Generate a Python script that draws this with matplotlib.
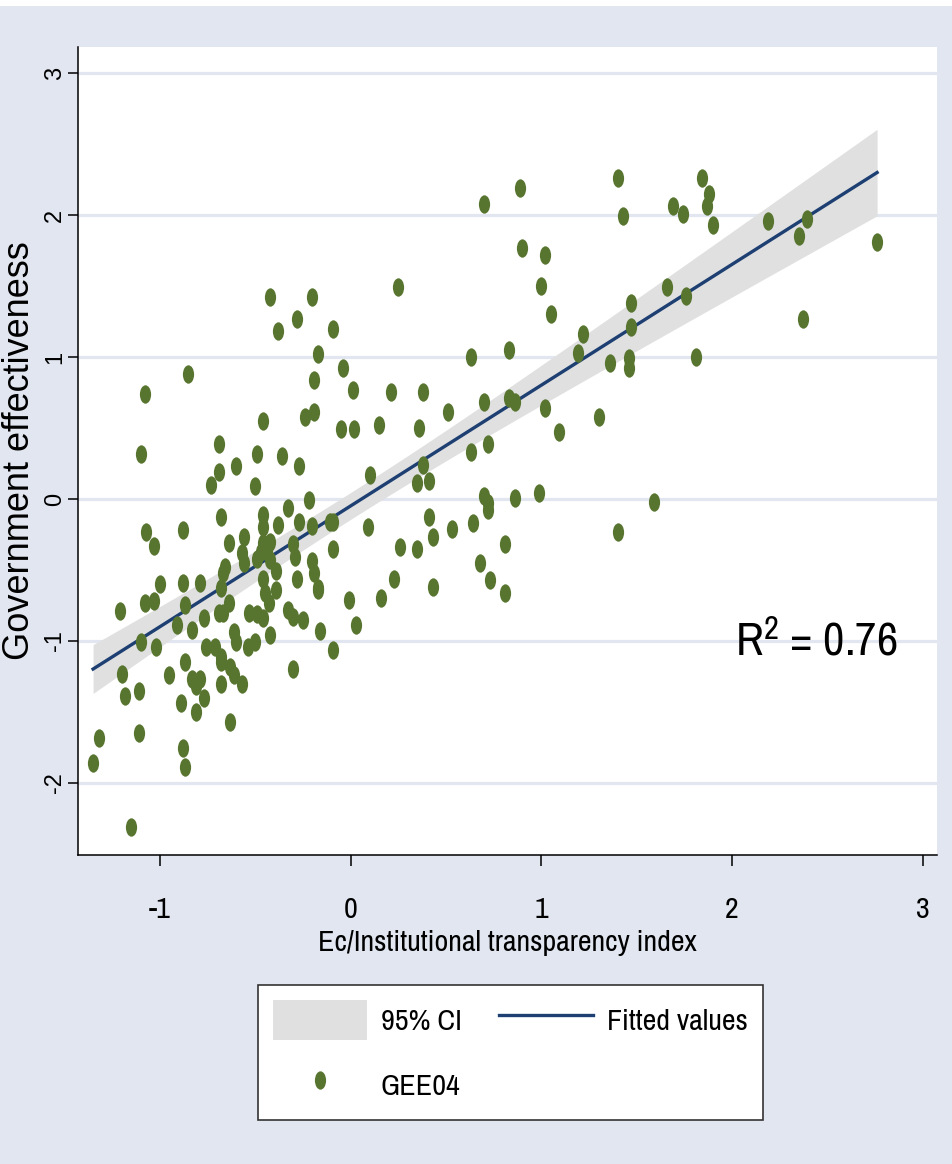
import numpy as np
import matplotlib
matplotlib.use('Agg')
import matplotlib.pyplot as plt
from matplotlib.path import Path
from matplotlib.transforms import Affine2D
from matplotlib.patches import Patch, Rectangle
from matplotlib.lines import Line2D
from matplotlib import font_manager

# Ec/Institutional transparency index (x) and GEE04 (y)
x_transp = [0.70, 0.89, 1.40, 1.43, 1.84, 1.88, 1.87, 1.90, 1.69, 1.74,
            2.19, 2.39, 2.35, 2.76, 2.37, 0.90, 1.02, 1.00, 1.05, 0.25,
            1.47, 1.47, 1.66, 1.76, 1.22, 1.19, 1.36, 1.46, 1.46, 1.81,
            0.83, 0.63, 1.30, 1.09, 1.02, 1.59, 1.40, -0.42, -0.20, -0.28,
            -0.38, -0.09, -0.17, -0.04, -0.85, -0.19, 0.01, -1.08, 0.21, 0.38,
            0.70, 0.83, 0.86, 0.51, -0.46, -0.24, -0.19, -0.05, 0.02, 0.15,
            0.36, 0.72, 0.63, -0.69, -1.10, -0.49, -0.36, -0.27, -0.60, -0.69,
            -0.73, -0.50, 0.10, 0.38, 0.35, 0.41, 0.70, 0.72, 0.72, 0.86,
            0.99, -0.33, -0.22, -0.68, -0.46, -0.46, -0.38, -0.27, -0.20, -0.11,
            -0.09, -0.88, -1.07, -1.03, -0.64, -0.56, -0.46, -0.42, -0.47, -0.44,
            -0.57, -0.56, -0.49, -0.30, -0.29, -0.09, -0.20, -0.19, -0.17, -0.42,
            -0.39, -0.66, -0.67, -0.46, -0.28, -0.88, -0.79, -0.68, -0.64, -0.45,
            -0.39, -0.43, -0.87, -0.01, -0.33, -0.30, -0.25, -0.69, -0.67, -0.53,
            -0.49, -0.46, -0.77, 0.03, 0.09, 0.41, 0.43, 0.53, 0.64, 0.26,
            0.35, 0.81, 0.68, 0.73, 0.81, 0.23, 0.43, 0.16, -0.17, -1.21,
            -1.08, -1.03, -1.00, -0.91, -0.83, -0.42, -0.61, -0.60, -0.54, -0.50,
            -1.10, -1.02, -0.76, -0.71, -0.68, -0.68, -0.63, -0.61, -0.57, -0.68,
            -1.20, -1.18, -1.11, -0.95, -0.87, -0.83, -0.79, -0.81, -0.77, -0.89,
            -0.81, -0.63, -1.32, -1.11, -1.35, -0.88, -0.87, -1.15, -0.16, -0.09,
            -0.30]
gee04 = [2.08, 2.19, 2.26, 1.99, 2.26, 2.15, 2.06, 1.93, 2.06, 2.01,
         1.96, 1.97, 1.85, 1.81, 1.27, 1.77, 1.72, 1.50, 1.30, 1.49,
         1.38, 1.21, 1.49, 1.43, 1.16, 1.03, 0.96, 0.99, 0.92, 1.00,
         1.05, 1.00, 0.58, 0.47, 0.64, -0.02, -0.23, 1.42, 1.42, 1.27,
         1.18, 1.20, 1.02, 0.92, 0.88, 0.84, 0.77, 0.74, 0.75, 0.75,
         0.68, 0.71, 0.68, 0.61, 0.55, 0.58, 0.61, 0.49, 0.49, 0.52,
         0.50, 0.39, 0.33, 0.39, 0.32, 0.32, 0.30, 0.23, 0.23, 0.19,
         0.10, 0.09, 0.17, 0.24, 0.11, 0.13, 0.02, -0.03, -0.08, 0.01,
         0.04, -0.06, -0.01, -0.13, -0.11, -0.20, -0.18, -0.16, -0.19, -0.16,
         -0.16, -0.22, -0.23, -0.33, -0.31, -0.27, -0.31, -0.30, -0.37, -0.36,
         -0.38, -0.45, -0.42, -0.32, -0.41, -0.35, -0.44, -0.52, -0.63, -0.43,
         -0.51, -0.48, -0.52, -0.56, -0.56, -0.59, -0.59, -0.63, -0.73, -0.66,
         -0.64, -0.73, -0.75, -0.71, -0.78, -0.83, -0.85, -0.80, -0.80, -0.80,
         -0.81, -0.84, -0.84, -0.89, -0.20, -0.13, -0.27, -0.21, -0.17, -0.34,
         -0.35, -0.32, -0.45, -0.57, -0.66, -0.56, -0.62, -0.70, -0.64, -0.79,
         -0.73, -0.72, -0.60, -0.89, -0.92, -0.96, -0.94, -1.01, -1.04, -1.01,
         -1.01, -1.04, -1.04, -1.04, -1.11, -1.15, -1.18, -1.24, -1.30, -1.30,
         -1.23, -1.39, -1.35, -1.24, -1.15, -1.27, -1.27, -1.32, -1.40, -1.44,
         -1.50, -1.57, -1.68, -1.65, -1.86, -1.75, -1.89, -2.31, -0.93, -1.06,
         -1.20]

x_ticks = [-1, 0, 1, 2, 3]
y_ticks = [-2, -1, 0, 1, 2, 3]
r2_text = 'R$^2$ = 0.76'

green = '#587530'
navy = '#1d3f72'
band = '#e0e0e0'
bluegray = '#e1e6f0'

# the reference uses a tall, narrow sans; take a narrow face if there is one
names = sorted({f.name for f in font_manager.fontManager.ttflist})
narrow_faces = [nm for nm in names if 'Narrow' in nm or 'Condensed' in nm]
narrow = narrow_faces[0] if narrow_faces else 'Liberation Sans'
plt.rcParams['font.family'] = [narrow, 'DejaVu Sans']
plt.rcParams['axes.unicode_minus'] = False
plt.rcParams['mathtext.default'] = 'regular'

# linear fit with 95% CI of the mean
x = np.array(x_transp)
y = np.array(gee04)
slope, icept = np.polyfit(x, y, 1)
xs = np.linspace(x.min(), x.max(), 200)
yhat = icept + slope * xs
n = len(x)
resid = y - (icept + slope * x)
s = np.sqrt(resid @ resid / (n - 2))
se = s * np.sqrt(1 / n + (xs - x.mean()) ** 2 / ((x - x.mean()) ** 2).sum())
lo = yhat - 1.972 * se
hi = yhat + 1.972 * se

# tall ellipse marker
ellipse = Path.unit_circle().transformed(Affine2D().scale(0.61, 1.0))

fig = plt.figure(figsize=(9.53, 11.64), dpi=100, facecolor=bluegray)
fig.patches.append(Rectangle((0, 1 - 6 / 1164), 1, 6 / 1164, transform=fig.transFigure,
                             facecolor='white', edgecolor='none'))
ax = fig.add_axes([78 / 953, 1 - 855 / 1164, (937 - 78) / 953, (855 - 47) / 1164])
ax.set_facecolor('white')

ax.fill_between(xs, lo, hi, color=band, lw=0, zorder=2)
ax.plot(xs, yhat, color=navy, lw=2.4, zorder=3)
ax.scatter(x, y, marker=ellipse, s=175, color=green, lw=0, zorder=4)

ax.set_xlim(-1.429, 3.074)
ax.set_ylim(-2.507, 3.183)
ax.set_xticks(x_ticks)
ax.set_yticks(y_ticks)
ax.grid(axis='y', color=bluegray, lw=2.3, zorder=1)
ax.set_axisbelow(True)

for side in ['top', 'right']:
    ax.spines[side].set_visible(False)
for side in ['left', 'bottom']:
    ax.spines[side].set_linewidth(1.1)
    ax.spines[side].set_color('black')

# size the narrow texts by their width in the reference
xlab = ax.set_xlabel('Ec/Institutional transparency index', fontsize=20, va='center')
ax.xaxis.set_label_coords(0.5, (855 - 943) / 808)
r2 = ax.text((735 - 78) / 859, (855 - 655) / 808, r2_text, transform=ax.transAxes,
             fontsize=30, ha='left', va='baseline')
renderer = fig.canvas.get_renderer()
txt_size = 20 * 379 / xlab.get_window_extent(renderer).width
xlab.set_fontsize(txt_size)
r2.set_fontsize(30 * 163 / r2.get_window_extent(renderer).width)

ax.tick_params(axis='x', length=8, width=1.1, pad=22, labelsize=txt_size)
ax.tick_params(axis='y', length=7, width=1.1, pad=1.4, labelsize=17, labelrotation=90)
for lab in ax.get_yticklabels():
    lab.set_family(['Liberation Sans', 'DejaVu Sans'])
    lab.set_va('center')

ax.set_ylabel('Government effectiveness', fontsize=26, va='center',
              family=['Liberation Sans', 'DejaVu Sans'])
ax.yaxis.set_label_coords((20 - 78) / 859, 0.5)

# legend: grey box, navy line, green dot laid out as in the reference
ci_h = Patch(facecolor=band, edgecolor='none')
fit_h = Line2D([], [], color=navy, lw=2.4)
pt_h = Line2D([], [], ls='none', marker=ellipse, ms=13.2, color=green, mew=0)
fpx = txt_size * 100 / 72
hh = (40 / fpx - 0.245) / 0.65
leg = fig.legend([ci_h, pt_h, fit_h], ['95% CI', 'GEE04', 'Fitted values'],
                 ncol=2, loc='upper left', bbox_to_anchor=(258 / 953, 1 - 985 / 1164),
                 fontsize=txt_size, frameon=True, fancybox=False, edgecolor='#333333',
                 framealpha=1, handlelength=94 / fpx, handleheight=hh,
                 handletextpad=14 / fpx, columnspacing=37 / fpx,
                 labelspacing=25 / fpx, borderpad=15 / fpx, borderaxespad=0)
leg.get_frame().set_linewidth(1.2)

fig.savefig('out.png', dpi=100, facecolor=fig.get_facecolor())
